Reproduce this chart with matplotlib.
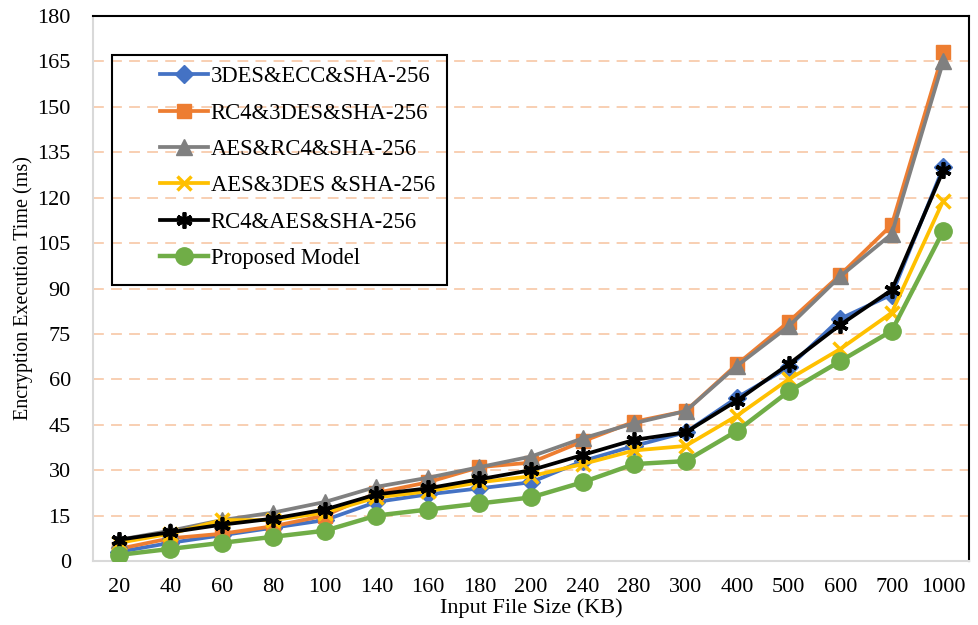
import matplotlib.pyplot as plt
from matplotlib.patches import Rectangle

plt.rcParams['font.family'] = ['Liberation Serif', 'DejaVu Serif']

sizes = ['20', '40', '60', '80', '100', '140', '160', '180', '200', '240',
         '280', '300', '400', '500', '600', '700', '1000']

des_ecc = [3, 6, 8.5, 11, 13.5, 19.5, 22, 24, 26, 33, 38, 42.5, 54, 64, 80, 88, 130]
rc4_3des = [4, 7.5, 9, 11.5, 15, 22.5, 26, 31, 32.5, 39.5, 46, 49.5, 65, 79, 94.5, 111, 168]
aes_rc4 = [7, 10, 13.5, 16, 19.5, 24.5, 27.5, 31, 34.5, 40.5, 45.5, 49.5, 64.5, 77.5, 94, 108, 165]
aes_3des = [6, 9, 13.5, 13.5, 16, 21, 23, 26, 28, 32, 36.5, 38, 48, 60, 70, 82, 119]
rc4_aes = [7, 9.5, 12, 14, 17, 22, 24, 27, 30, 35, 40, 42.5, 53, 65, 78, 89.5, 129]
proposed = [2, 4, 6, 8, 10, 15, 17, 19, 21, 26, 32, 33, 43, 56, 66, 76, 109]

yticks = list(range(0, 181, 15))

fig = plt.figure(figsize=(9.79, 6.25), dpi=100)
ax = fig.add_axes([0.095, 0.1024, 0.8948, 0.872])

x = list(range(len(sizes)))
lw = 2.7
ax.plot(x, des_ecc, color='#4472C4', lw=lw, marker='D', ms=9, label='3DES&ECC&SHA-256', zorder=3)
ax.plot(x, rc4_3des, color='#ED7D31', lw=lw, marker='s', ms=10, label='RC4&3DES&SHA-256', zorder=3)
ax.plot(x, aes_rc4, color='#808080', lw=lw, marker='^', ms=11, label='AES&RC4&SHA-256', zorder=3)
ax.plot(x, aes_3des, color='#FFC000', lw=lw, marker='x', ms=9.5, mew=2.5, label='AES&3DES &SHA-256', zorder=3)
ax.plot(x, rc4_aes, color='#000000', lw=lw, marker=(6, 2, 0), ms=11.5, mew=2.7, label='RC4&AES&SHA-256', zorder=3)
ax.plot(x, proposed, color='#70AD47', lw=lw + 0.5, marker='o', ms=12.5, label='Proposed Model', zorder=3)

ax.set_xlim(-0.5, len(sizes) - 0.5)
ax.set_ylim(0, 180)
ax.set_xticks(x)
ax.set_xticklabels(sizes)
ax.set_yticks(yticks)
ax.tick_params(length=0, labelsize=16, pad=12)
ax.tick_params(axis='y', pad=16)

for v in yticks[1:-1]:
    ax.axhline(v, color='#F8CBAD', lw=1.3, dashes=(6, 4), zorder=1)

ax.spines['left'].set_color('#D9D9D9')
ax.spines['bottom'].set_color('#D9D9D9')
ax.spines['left'].set_linewidth(1.5)
ax.spines['bottom'].set_linewidth(1.5)
ax.spines['top'].set_color('black')
ax.spines['right'].set_color('black')
ax.spines['top'].set_linewidth(1.5)
ax.spines['right'].set_linewidth(1.5)

ax.set_xlabel('Input File Size (KB)', fontsize=16, labelpad=1)
ax.set_ylabel('Encryption Execution Time (ms)', fontsize=14.5, labelpad=3)

ax.add_patch(Rectangle((0.0217, 0.506), 0.382, 0.422, transform=ax.transAxes,
                       fill=False, edgecolor='black', lw=1.5, zorder=4))
ax.legend(loc='upper left', bbox_to_anchor=(0.077, 0.908), frameon=False,
          fontsize=16.3, handlelength=2.1, handletextpad=0.12, labelspacing=0.68,
          borderpad=0, borderaxespad=0)

fig.savefig('out.png', dpi=100)
